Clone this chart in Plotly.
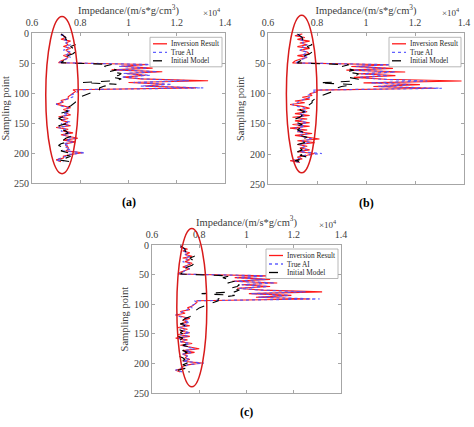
import plotly.graph_objects as go

W, H = 474, 427

# sampling points (every 3rd sample)
samples = list(range(1, 216, 3))

# impedance values, x10^4 (m/s*g/cm^3)
true_ai = [0.73, 0.72, 0.74, 0.73, 0.75, 0.74, 0.76, 0.74, 0.75, 0.73, 0.76, 0.75, 0.74, 0.76, 0.74, 0.73,
           0.71, 1.10, 0.96, 1.08, 0.95, 1.12, 0.98, 1.09, 0.97, 1.06, 1.25, 1.02, 1.18, 1.05, 1.31, 0.78,
           0.79, 0.78, 0.76, 0.77, 0.75, 0.73, 0.72, 0.70, 0.72, 0.75, 0.74, 0.76, 0.73, 0.75, 0.72, 0.74,
           0.73, 0.76, 0.72, 0.75, 0.71, 0.74, 0.72, 0.76, 0.73, 0.75, 0.78, 0.74, 0.77, 0.73, 0.75, 0.74,
           0.76, 0.73, 0.82, 0.75, 0.74, 0.72, 0.70, 0.73]

initial_model = [0.72, 0.73, 0.74, 0.74, 0.75, 0.76, 0.78, 0.76, 0.77, 0.76, 0.78, 0.77, 0.75, 0.74, 0.75, 0.73,
                 0.72, 0.93, 0.90, 0.92, 0.95, 0.92, 0.97, 0.96, 0.93, 0.97, 0.95, 0.81, 0.95, 0.90, 0.88, 0.88,
                 0.86, 0.84, 0.82, 0.80, 0.79, 0.78, 0.78, 0.77, 0.76, 0.74, 0.73, 0.75, 0.72, 0.74, 0.73, 0.71,
                 0.73, 0.72, 0.74, 0.71, 0.73, 0.72, 0.74, 0.75, 0.73, 0.76, 0.74, 0.73, 0.75, 0.72, 0.71, 0.73,
                 0.74, 0.72, 0.75, 0.73, 0.76, 0.74, 0.71, 0.76]

inversion_a = [0.72, 0.73, 0.74, 0.72, 0.76, 0.74, 0.75, 0.73, 0.76, 0.74, 0.75, 0.76, 0.73, 0.75, 0.74, 0.72,
               0.71, 1.08, 0.97, 1.10, 0.93, 1.14, 0.99, 1.07, 0.98, 1.05, 1.33, 1.00, 1.15, 1.07, 1.28, 0.77,
               0.78, 0.77, 0.76, 0.75, 0.75, 0.72, 0.73, 0.70, 0.73, 0.76, 0.73, 0.75, 0.74, 0.76, 0.71, 0.75,
               0.72, 0.75, 0.73, 0.76, 0.70, 0.75, 0.73, 0.77, 0.72, 0.76, 0.79, 0.73, 0.78, 0.74, 0.74, 0.75,
               0.75, 0.74, 0.81, 0.76, 0.73, 0.73, 0.70, 0.72]

inversion_b = [0.74, 0.71, 0.75, 0.72, 0.77, 0.73, 0.76, 0.72, 0.77, 0.73, 0.76, 0.77, 0.72, 0.76, 0.73, 0.71,
               0.70, 1.10, 0.94, 1.11, 0.92, 1.16, 0.97, 1.12, 0.95, 1.08, 1.39, 0.99, 1.22, 1.03, 1.28, 0.80,
               0.80, 0.77, 0.78, 0.74, 0.77, 0.71, 0.75, 0.69, 0.74, 0.77, 0.72, 0.76, 0.71, 0.77, 0.70, 0.76,
               0.71, 0.77, 0.70, 0.77, 0.69, 0.76, 0.72, 0.78, 0.71, 0.77, 0.81, 0.72, 0.79, 0.72, 0.76, 0.73,
               0.77, 0.72, 0.79, 0.76, 0.72, 0.74, 0.69, 0.73]

inversion_c = [0.73, 0.72, 0.75, 0.73, 0.76, 0.74, 0.77, 0.73, 0.76, 0.74, 0.77, 0.75, 0.73, 0.76, 0.74, 0.72,
               0.71, 1.09, 0.95, 1.10, 0.94, 1.13, 0.98, 1.10, 0.96, 1.07, 1.32, 1.01, 1.19, 1.04, 1.27, 0.79,
               0.79, 0.78, 0.77, 0.75, 0.76, 0.72, 0.74, 0.70, 0.73, 0.76, 0.73, 0.75, 0.72, 0.76, 0.71, 0.75,
               0.72, 0.76, 0.71, 0.76, 0.70, 0.75, 0.72, 0.77, 0.72, 0.76, 0.80, 0.73, 0.78, 0.73, 0.75, 0.74,
               0.76, 0.73, 0.81, 0.75, 0.73, 0.73, 0.70, 0.72]

series_names = ["Inversion Result", "True AI", "Initial Model"]
x_ticks = [0.6, 0.8, 1.0, 1.2, 1.4]
y_ticks = [0, 50, 100, 150, 200, 250]

FONT = "Liberation Serif"
XR = [0.6, 1.4]
YR = [250, 0]
styles = [dict(color="rgba(255,0,0,0.9)", width=1.1),
          dict(color="rgba(80,80,255,0.9)", width=1.2, dash="dot"),
          dict(color="black", width=1.1, dash="dash")]

# panel: label, inversion series, axis box in pixels (left, right, top, bottom), ellipse in data units
panels = [
    ("(a)", inversion_a, (32, 225, 33.3, 183.3), (0.657, 0.792, -28, 234)),
    ("(b)", inversion_b, (268, 464, 33.3, 184.3), (0.675, 0.800, -30, 231)),
    ("(c)", inversion_c, (152, 341, 245, 393.3), (0.705, 0.832, -28, 239)),
]


def px(x):
    return x / W


def py(y):
    return 1 - y / H


fig = go.Figure()
shapes = []
annotations = []
for i, (label, inv, box, ell) in enumerate(panels):
    n = "" if i == 0 else str(i + 1)
    xa, ya = "x" + n, "y" + n
    left, right, top, bottom = box
    xd = [px(left), px(right)]
    yd = [py(bottom), py(top)]
    for name, vals, st in zip(series_names, [inv, true_ai, initial_model], styles):
        fig.add_trace(go.Scatter(x=vals, y=samples, xaxis=xa, yaxis=ya, mode="lines",
                                 name=name, line=st, showlegend=False))

    axis_common = dict(showline=True, linecolor="#a6a6a6", linewidth=1, mirror="ticks", ticks="inside",
                       ticklen=3, tickcolor="#a6a6a6", showgrid=False, zeroline=False, automargin=False,
                       tickfont=dict(family=FONT, size=10, color="#404040"))
    fig.update_layout(**{
        "xaxis" + n: dict(axis_common, domain=xd, range=XR, side="top", tickvals=x_ticks,
                          anchor=ya, ticklabelstandoff=2,
                          title=dict(text="Impedance/(m/s*g/cm<sup>3</sup>)", standoff=0,
                                     font=dict(family=FONT, size=10.5, color="#404040"))),
        "yaxis" + n: dict(axis_common, domain=yd, range=YR, tickvals=y_ticks, anchor=xa,
                          title=dict(text="Sampling point", standoff=3,
                                     font=dict(family=FONT, size=10.5, color="#404040"))),
    })

    # red ellipse, mapped from data units to paper
    x0, x1, y0, y1 = ell
    sx = (right - left) / (XR[1] - XR[0])
    sy = (bottom - top) / (YR[0] - YR[1])
    shapes.append(dict(type="circle", xref="paper", yref="paper",
                       x0=px(left + (x0 - XR[0]) * sx), x1=px(left + (x1 - XR[0]) * sx),
                       y0=py(top + y0 * sy), y1=py(top + y1 * sy),
                       line=dict(color="#d81b1b", width=1.5)))

    # legend box
    lr, lt = right - 3, top + 4
    ll, lb = lr - 72, lt + 29.5
    shapes.append(dict(type="rect", xref="paper", yref="paper", x0=px(ll), x1=px(lr), y0=py(lb), y1=py(lt),
                       fillcolor="white", line=dict(color="#a6a6a6", width=0.8), layer="above"))
    for k, (name, st) in enumerate(zip(series_names, styles)):
        ry = lt + 6.5 + 8.5 * k
        shapes.append(dict(type="line", xref="paper", yref="paper", x0=px(ll + 3), x1=px(ll + 17),
                           y0=py(ry), y1=py(ry), line=dict(st, width=1.3), layer="above"))
        annotations.append(dict(text=name, xref="paper", yref="paper", x=px(ll + 18.5), y=py(ry),
                                xanchor="left", yanchor="middle", showarrow=False,
                                font=dict(family=FONT, size=7.3, color="#262626")))

    annotations.append(dict(text="\u00d710<sup>4</sup>", xref="paper", yref="paper",
                            x=px(right - 2), y=py(top - 13), xanchor="right", yanchor="bottom",
                            showarrow=False, font=dict(family=FONT, size=9, color="#404040")))
    annotations.append(dict(text="<b>" + label + "</b>", xref="paper", yref="paper",
                            x=px((left + right) / 2), y=py(bottom + 19), xanchor="center", yanchor="middle",
                            showarrow=False, font=dict(family=FONT, size=12, color="black")))

fig.update_layout(width=W, height=H, margin=dict(l=0, r=0, t=0, b=0),
                  plot_bgcolor="white", paper_bgcolor="white", showlegend=False,
                  shapes=shapes, annotations=annotations)
fig.write_html("out.html", config={"displayModeBar": False},
               post_script="document.body.style.margin='0px';")
